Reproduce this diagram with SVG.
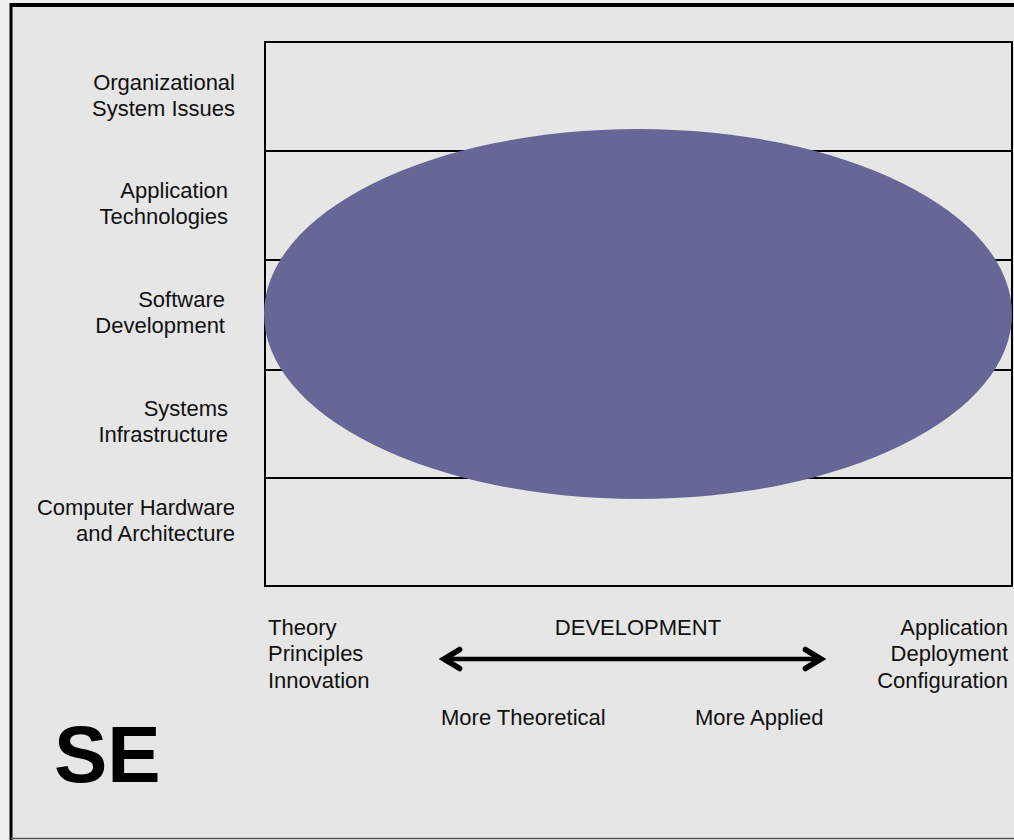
<svg xmlns="http://www.w3.org/2000/svg" width="1014" height="840" viewBox="0 0 1014 840">
<style>
.lbl{font-family:"Liberation Sans",Arial,sans-serif;font-size:22px;fill:#111}
.grid{fill:none;stroke:#000;stroke-width:2}
</style>
<defs>
<marker id="head" viewBox="0 0 20 20" refX="16" refY="10" markerWidth="6" markerHeight="6" orient="auto-start-reverse" markerUnits="strokeWidth">
<path d="M4.5,3 L16,10 L4.5,17" fill="none" stroke="#000" stroke-width="4.2" stroke-linecap="round" stroke-linejoin="miter"/>
</marker>
</defs>
<rect x="0" y="0" width="1014" height="840" fill="#f0f0f0"/>
<rect x="11" y="5" width="1010" height="833" fill="#e6e6e6"/>
<line x1="11" y1="5" x2="1014" y2="5" stroke="#000" stroke-width="4"/>
<line x1="11" y1="3" x2="11" y2="840" stroke="#000" stroke-width="3"/>
<line x1="11" y1="838.5" x2="1014" y2="838.5" stroke="#555" stroke-width="1.5"/>
<g id="grid">
<rect class="grid" x="265" y="42" width="747" height="544"/>
<line class="grid" x1="265" y1="151" x2="1012" y2="151"/>
<line class="grid" x1="265" y1="260" x2="1012" y2="260"/>
<line class="grid" x1="265" y1="370" x2="1012" y2="370"/>
<line class="grid" x1="265" y1="478" x2="1012" y2="478"/>
</g>
<g id="ellipse"><ellipse cx="638" cy="314" rx="374" ry="185" fill="#676797"/></g>
<g id="row-labels" class="lbl" text-anchor="end">
<g id="n-org"><text class="lbl" x="235" y="90">Organizational</text><text class="lbl" x="235" y="116">System Issues</text></g>
<g id="n-app"><text class="lbl" x="228" y="198">Application</text><text class="lbl" x="228" y="224">Technologies</text></g>
<g id="n-sw"><text class="lbl" x="225" y="307">Software</text><text class="lbl" x="225" y="333">Development</text></g>
<g id="n-sys"><text class="lbl" x="228" y="416">Systems</text><text class="lbl" x="228" y="442">Infrastructure</text></g>
<g id="n-hw"><text class="lbl" x="235" y="515">Computer Hardware</text><text class="lbl" x="235" y="541">and Architecture</text></g>
</g>
<g id="n-theory"><text class="lbl" x="268" y="635">Theory</text><text class="lbl" x="268" y="661">Principles</text><text class="lbl" x="268" y="688">Innovation</text></g>
<g id="n-applied" text-anchor="end"><text class="lbl" x="1008" y="635">Application</text><text class="lbl" x="1008" y="661">Deployment</text><text class="lbl" x="1008" y="688">Configuration</text></g>
<g id="n-dev"><text class="lbl" x="638" y="635" text-anchor="middle">DEVELOPMENT</text></g>
<g id="n-more"><text class="lbl" x="441" y="725">More Theoretical</text><text class="lbl" x="695" y="725">More Applied</text></g>
<g id="connectors">
<line x1="444" y1="659" x2="821" y2="659" stroke="#000" stroke-width="4.5" marker-start="url(#head)" marker-end="url(#head)"/>
</g>
<g id="n-se"><text x="54" y="782" font-family="Liberation Sans,Arial,sans-serif" font-weight="bold" font-size="80" fill="#000">SE</text></g>
</svg>
